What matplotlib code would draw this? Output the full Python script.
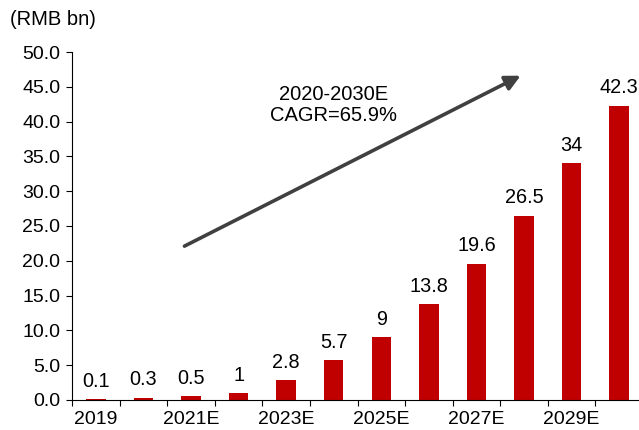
import matplotlib.pyplot as plt
import numpy as np
from matplotlib.ticker import FormatStrFormatter

plt.rcParams['font.family'] = ['Liberation Sans', 'DejaVu Sans']

years = ['2019', '2020', '2021E', '2022E', '2023E', '2024E', '2025E',
         '2026E', '2027E', '2028E', '2029E', '2030E']
values = [0.1, 0.3, 0.5, 1, 2.8, 5.7, 9, 13.8, 19.6, 26.5, 34, 42.3]
value_labels = ['0.1', '0.3', '0.5', '1', '2.8', '5.7', '9', '13.8',
                '19.6', '26.5', '34', '42.3']

fig = plt.figure(figsize=(6.39, 4.30), dpi=100)
ax = fig.add_axes([0.113, 0.07, 0.893, 0.809])

x = np.arange(len(years))
ax.bar(x, values, width=0.41, color='#C00000')

# value labels on top of each bar
for xi, v, lab in zip(x, values, value_labels):
    ax.annotate(lab, (xi, v), xytext=(0, 6), textcoords='offset points',
                ha='center', va='bottom', fontsize=14.3, annotation_clip=False)

ax.set_xlim(-0.5, len(years) - 0.5)
ax.set_ylim(0, 50)
ax.set_yticks(np.arange(0, 50.1, 5))
ax.yaxis.set_major_formatter(FormatStrFormatter('%.1f'))

# ticks sit on category boundaries, labels every other year
ax.set_xticks(np.arange(-0.5, len(years), 1))
ax.set_xticklabels([])
ax.set_xticks(x[::2], minor=True)
ax.set_xticklabels(years[::2], minor=True)
ax.tick_params(axis='x', which='minor', length=0, labelsize=14, pad=8)
ax.tick_params(axis='x', which='major', length=4.5, direction='out')
ax.tick_params(axis='y', labelsize=14, length=4.5, direction='out', pad=4)

for side in ['top', 'right']:
    ax.spines[side].set_visible(False)
ax.spines['left'].set_color('black')
ax.spines['bottom'].set_color('black')

# growth arrow
ax.annotate('', xy=(8.93, 46.6), xytext=(1.86, 22.1),
            arrowprops=dict(arrowstyle='-|>,head_length=0.9,head_width=0.45',
                            color='#404040', lw=2.6, shrinkA=0, shrinkB=0))
ax.text(5.0, 42.4, '2020-2030E\nCAGR=65.9%', ha='center', va='center',
        fontsize=14.5, linespacing=1.1)

fig.text(0.015, 0.955, '(RMB bn)', ha='left', va='center', fontsize=14.5)

fig.savefig('out.png', dpi=100)
